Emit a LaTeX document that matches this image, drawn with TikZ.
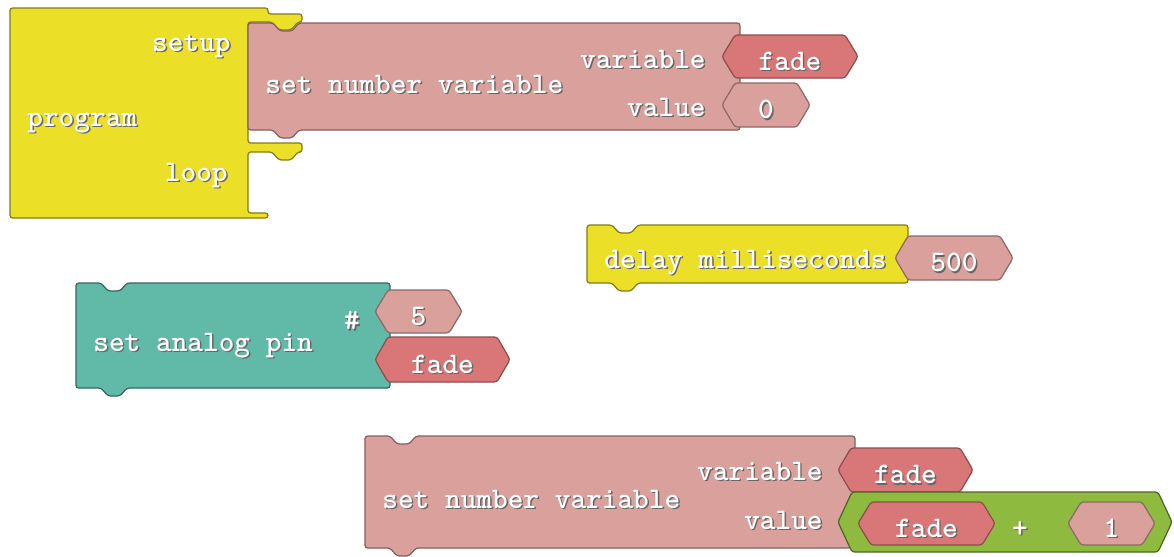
\documentclass[tikz,border=0pt]{standalone}
\usepackage{tikz}

\definecolor{ctrlyellow}{RGB}{236,223,40}
\definecolor{varpink}{RGB}{217,160,156}
\definecolor{varred}{RGB}{217,119,120}
\definecolor{pinteal}{RGB}{97,186,168}
\definecolor{mathgreen}{RGB}{142,186,64}

\tikzset{
  block/.style={line width=0.7pt, rounded corners=1.5pt, line join=round},
  lbl/.style={text=white, inner sep=0pt, yshift=-3pt,
    font=\ttfamily\bfseries\fontsize{17}{19}\selectfont},
}

% white label with a dark drop shadow
\newcommand{\embossed}[1]{\rlap{\kern0.8pt\raisebox{-0.8pt}{\color{black!60}#1}}#1}

% hexagonal value socket: name, colour, left, right, top, bottom, text
\newcommand{\argpill}[7]{%
  \filldraw[block, fill=#2, draw=#2!65!black]
    (#3,{(#5+#6)/2}) -- (#3+13,#5) -- (#4-13,#5) -- (#4,{(#5+#6)/2})
    -- (#4-13,#6) -- (#3+13,#6) -- cycle;
  \node[lbl] (#1) at ({(#3+#4)/2},{(#5+#6)/2}) {\embossed{#7}};
}

\begin{document}
\begin{tikzpicture}[x=0.02cm, y=-0.02cm]
\useasboundingbox (0,0) rectangle (1174,556);

% The program block
\filldraw[block, fill=ctrlyellow, draw=ctrlyellow!55!black]
  (10,8) -- (268,8) -- (268,14) -- (302,14) -- (302,22)
  -- (298,22) -- (291,30) -- (279,30) -- (272,22) -- (248,22)
  -- (248,143) -- (302,143) -- (302,152)
  -- (298,152) -- (291,160) -- (279,160) -- (272,152) -- (248,152)
  -- (248,213) -- (268,213) -- (268,218) -- (10,218) -- cycle;
\node[lbl, anchor=mid east] (setup) at (231,42) {\embossed{setup}};
\node[lbl, anchor=mid west] (program) at (27,117) {\embossed{program}};
\node[lbl, anchor=mid east] (loop) at (228,172) {\embossed{loop}};

% set number variable (setup)
\filldraw[block, fill=varpink, draw=varpink!60!black]
  (248,23) -- (273,23) -- (280,31) -- (292,31) -- (299,23) -- (740,23)
  -- (740,130) -- (299,130) -- (292,138) -- (280,138) -- (273,130)
  -- (248,130) -- cycle;
\node[lbl, anchor=mid west] (setvar) at (265,84) {\embossed{set number variable}};
\node[lbl, anchor=mid east] (varlbl) at (706,59) {\embossed{variable}};
\node[lbl, anchor=mid east] (vallbl) at (706,107) {\embossed{value}};
\argpill{fadeA}{varred}{722}{858}{35}{78}{fade}
\argpill{zero}{varpink}{722}{810}{83}{127}{0}

% delay
\filldraw[block, fill=ctrlyellow, draw=ctrlyellow!55!black]
  (587,225) -- (612,225) -- (619,233) -- (631,233) -- (638,225) -- (908,225)
  -- (908,283) -- (638,283) -- (631,291) -- (619,291) -- (612,283)
  -- (587,283) -- cycle;
\node[lbl, anchor=mid west] (delay) at (604,259) {\embossed{delay milliseconds}};
\argpill{ms}{varpink}{895}{1013}{236}{280}{500}

% set analog pin
\filldraw[block, fill=pinteal, draw=pinteal!55!black]
  (76,283) -- (101,283) -- (108,291) -- (120,291) -- (127,283) -- (390,283)
  -- (390,388) -- (127,388) -- (120,396) -- (108,396) -- (101,388)
  -- (76,388) -- cycle;
\node[lbl, anchor=mid west] (analog) at (93,342) {\embossed{set analog pin}};
\node[lbl] (hash) at (352,316) {\embossed{\#}};
\argpill{pin}{varpink}{375}{462}{290}{333}{5}
\argpill{fadeB}{varred}{375}{510}{337}{382}{fade}

% set number variable (loop)
\filldraw[block, fill=varpink, draw=varpink!60!black]
  (365,436) -- (390,436) -- (397,444) -- (409,444) -- (416,436) -- (855,436)
  -- (855,548) -- (416,548) -- (409,556) -- (397,556) -- (390,548)
  -- (365,548) -- cycle;
\node[lbl, anchor=mid west] (setvarB) at (382,499) {\embossed{set number variable}};
\node[lbl, anchor=mid east] (varlblB) at (823,471) {\embossed{variable}};
\node[lbl, anchor=mid east] (vallblB) at (823,520) {\embossed{value}};
\argpill{fadeC}{varred}{838}{973}{448}{492}{fade}

% fade + 1
\filldraw[block, fill=mathgreen, draw=mathgreen!55!black]
  (838,522) -- (852,492) -- (1158,492) -- (1172,522) -- (1158,552)
  -- (852,552) -- cycle;
\argpill{fadeD}{varred}{858}{995}{502}{545}{fade}
\node[lbl] (plus) at (1020,525) {\embossed{+}};
\argpill{one}{varpink}{1068}{1155}{502}{545}{1}
\end{tikzpicture}
\end{document}
